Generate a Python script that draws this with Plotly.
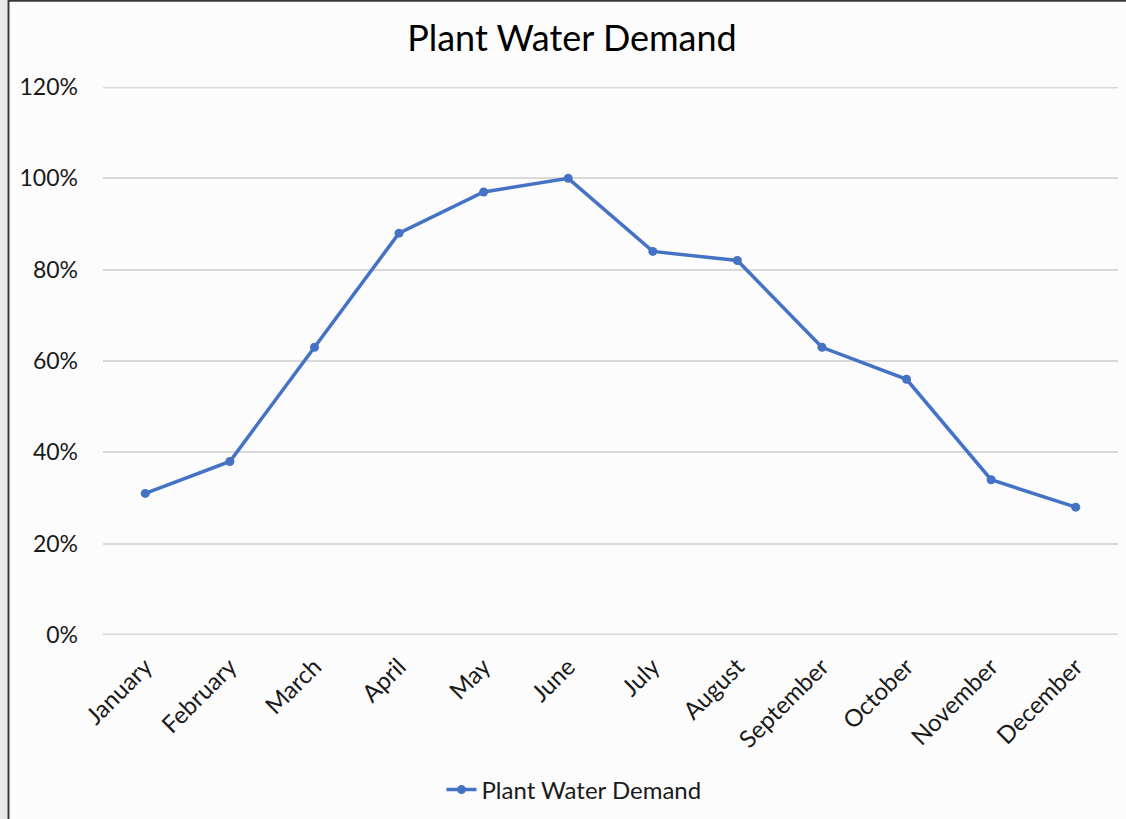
import plotly.graph_objects as go

months = ["January", "February", "March", "April", "May", "June", "July",
          "August", "September", "October", "November", "December"]
demand = [0.31, 0.38, 0.63, 0.88, 0.97, 1.00, 0.84, 0.82, 0.63, 0.56, 0.34, 0.28]
series_name = "Plant Water Demand"
y_ticks = [0, 0.2, 0.4, 0.6, 0.8, 1.0, 1.2]
y_tick_text = ["0%", "20%", "40%", "60%", "80%", "100%", "120%"]

W, H = 1126, 819
ML, MR, MT, MB = 103, 8, 87, 184
PW, PH = W - ML - MR, H - MT - MB

def px(x):
    return (x - ML) / PW

def py(y):
    return (H - MB - y) / PH

FONT = "Lato, 'Open Sans', sans-serif"
BLUE = "#4472C4"
GRID = "#d9d9d9"

fig = go.Figure()
fig.add_trace(go.Scatter(
    x=months, y=demand, name=series_name, mode="lines+markers",
    line=dict(color=BLUE, width=3.5),
    marker=dict(color=BLUE, size=9),
    showlegend=True,
))

edge_lines = [dict(type="line", xref="paper", yref="y", x0=0, x1=1, y0=v, y1=v,
                   line=dict(color=GRID, width=3), layer="below")
              for v in (y_ticks[0], y_ticks[-1])]

fig.update_layout(
    width=W, height=H,
    margin=dict(l=ML, r=MR, t=MT, b=MB, autoexpand=False),
    paper_bgcolor="#fcfcfc",
    plot_bgcolor="rgba(0,0,0,0)",
    font=dict(family=FONT, color="#262626", size=22),
    title=dict(text=series_name, x=572 / W, xref="container", xanchor="center",
               y=1 - 38 / H, yref="container", yanchor="middle",
               font=dict(family=FONT, size=36, color="#000000")),
    showlegend=True,
    legend=dict(orientation="h", x=px(574), xanchor="center", y=py(790), yanchor="middle",
                font=dict(family=FONT, size=24, color="#1a1a1a"),
                bgcolor="rgba(0,0,0,0)", itemwidth=30),
    xaxis=dict(type="category", range=[-0.5, 11.5], showgrid=False, showline=False,
               zeroline=False, tickangle=-45, ticks="", ticklabelstandoff=12,
               tickfont=dict(family=FONT, size=24, color="#1a1a1a")),
    yaxis=dict(range=[0, 1.2], tickvals=y_ticks, ticktext=y_tick_text,
               showgrid=True, gridcolor=GRID, gridwidth=1.5, zeroline=False,
               showline=False, ticks="", ticklabelstandoff=24,
               tickfont=dict(family=FONT, size=23, color="#1a1a1a")),
    shapes=edge_lines + [
        dict(type="rect", xref="paper", yref="paper", x0=px(0), x1=px(7.5),
             y0=py(H), y1=py(0), fillcolor="#e8e8e8", line=dict(width=0), layer="below"),
        dict(type="line", xref="paper", yref="paper", x0=px(8.5), x1=px(8.5),
             y0=py(H), y1=py(0), line=dict(color="#3a3a3a", width=2)),
        dict(type="line", xref="paper", yref="paper", x0=px(8.5), x1=px(W),
             y0=py(0.8), y1=py(0.8), line=dict(color="#3a3a3a", width=2)),
    ],
)

fig.write_html("out.html", config={"displayModeBar": False},
               post_script="document.body.style.margin='0';document.body.style.overflow='hidden';")
